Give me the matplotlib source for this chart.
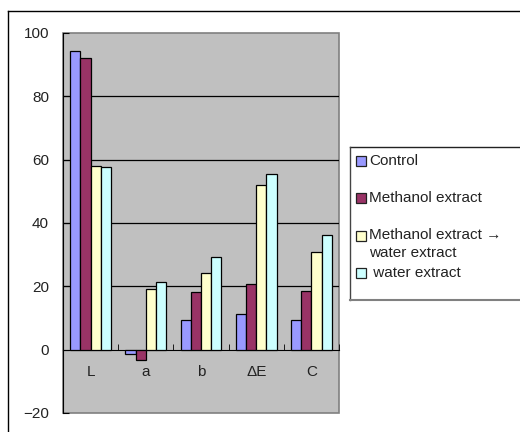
import matplotlib.pyplot as plt
from matplotlib.patches import Rectangle
from matplotlib.lines import Line2D
import numpy as np

plt.rcParams['font.family'] = ['Liberation Sans', 'DejaVu Sans']
plt.rcParams['font.size'] = 11

categories = ['L', 'a', 'b', 'ΔE', 'C']
series_names = ['Control', 'Methanol extract', 'Methanol extract →\nwater extract', ' water extract']
control = [94.3, -1.3, 9.5, 11.4, 9.5]
methanol = [92.1, -3.2, 18.2, 20.7, 18.5]
methanol_water = [57.9, 19.2, 24.3, 52.1, 30.8]
water = [57.8, 21.4, 29.2, 55.5, 36.3]
colors = ['#9999FF', '#993366', '#FFFFCC', '#CCFFFF']

W, H = 520, 432
fig = plt.figure(figsize=(W / 100, H / 100), dpi=100)
ax = fig.add_axes([63 / W, 1 - 413 / H, 276 / W, 380 / H])
ax.set_facecolor('#C0C0C0')

x = np.arange(len(categories))
bw = 0.185
for i, vals in enumerate([control, methanol, methanol_water, water]):
    ax.bar(x + (i - 1.5) * bw, vals, bw, color=colors[i], edgecolor='black', linewidth=0.9, zorder=3)

ax.set_xlim(-0.5, len(categories) - 0.5)
ax.set_ylim(-20, 100)
ax.set_yticks(range(-20, 101, 20))
for v in range(20, 100, 20):
    ax.axhline(v, color='black', linewidth=0.9, zorder=1)

# category axis crosses at zero
ax.spines['bottom'].set_position(('data', 0))
ax.spines['bottom'].set_color('black')
ax.spines['left'].set_color('black')
ax.spines['top'].set_visible(False)
ax.spines['right'].set_visible(False)
ax.add_patch(Rectangle((0, 0), 1, 1, transform=ax.transAxes, fill=False,
                       edgecolor='#808080', linewidth=1.2, clip_on=False, zorder=0.5))

ax.set_xticks(x)
ax.set_xticklabels(categories)
ax.set_xticks(np.arange(0.5, len(categories), 1), minor=True)
ax.tick_params(axis='x', which='major', length=0, pad=11, colors='#222222')
ax.tick_params(axis='x', which='minor', direction='in', length=4, color='black')
ax.tick_params(axis='y', direction='in', length=4, pad=10, colors='#222222')
ax.tick_params(axis='both', color='black')

# outer chart frame
fig.add_artist(Line2D([8 / W, 1], [1 - 11 / H, 1 - 11 / H], transform=fig.transFigure, color='black', linewidth=1))
fig.add_artist(Line2D([8 / W, 8 / W], [0, 1 - 11 / H], transform=fig.transFigure, color='black', linewidth=1))

# legend box
fig.add_artist(Line2D([350 / W, 1], [1 - 147 / H, 1 - 147 / H], transform=fig.transFigure, color='#222222', linewidth=1))
fig.add_artist(Line2D([350 / W, 350 / W], [1 - 147 / H, 1 - 300 / H], transform=fig.transFigure, color='#444444', linewidth=1))
fig.add_artist(Line2D([350 / W, 1], [1 - 300 / H, 1 - 300 / H], transform=fig.transFigure, color='#808080', linewidth=1.5))

entry_y = [161, 198, 236, 273]
for name, c, yy in zip(series_names, colors, entry_y):
    fig.add_artist(Rectangle((356 / W, 1 - (yy + 5) / H), 10 / W, 10 / H, transform=fig.transFigure,
                             facecolor=c, edgecolor='#222222', linewidth=0.9))
    if '\n' in name:
        fig.text(369 / W, 1 - (yy - 8) / H, name, ha='left', va='top',
                 fontsize=11, color='#222222', linespacing=1.35)
    else:
        fig.text(369 / W, 1 - yy / H, name, ha='left', va='center', fontsize=11, color='#222222')

fig.savefig('out.png', dpi=100)
